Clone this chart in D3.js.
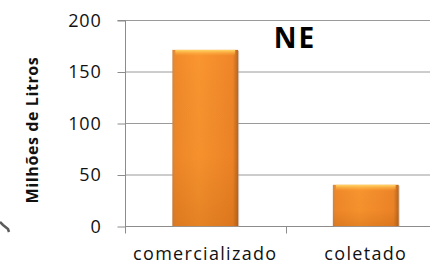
<!DOCTYPE html>
<html lang="pt">
<head>
<meta charset="UTF-8">
<title>NE</title>
<style>
  html, body { margin: 0; padding: 0; background: #fff; overflow: hidden; }
  svg { display: block; }
</style>
</head>
<body>
<svg id="chart" width="430" height="265"></svg>
<script src="https://cdn.jsdelivr.net/npm/d3@7"></script>
<script>
const categories = ["comercializado", "coletado"];
const values = [171, 40];
const yTicks = [0, 50, 100, 150, 200];
const chartTitle = "NE";
const yTitle = "Milhões de Litros";

const W = 430, H = 265;
const plotL = 125, plotR = 446, plotT = 20, plotB = 226;
const svg = d3.select("#chart");
const FONT = "'Open Sans', 'Liberation Sans', sans-serif";

const x = d3.scaleBand().domain(categories).range([plotL, plotR])
  .paddingInner(0.59).paddingOuter(0.295);
const y = d3.scaleLinear().domain([0, 200]).range([plotB, plotT]);

// gradients for the bars
const defs = svg.append("defs");
const gh = defs.append("linearGradient").attr("id", "gh").attr("x1", 0).attr("x2", 1).attr("y1", 0).attr("y2", 0);
gh.append("stop").attr("offset", "0%").attr("stop-color", "#d08a4a");
gh.append("stop").attr("offset", "5%").attr("stop-color", "#f28a2a");
gh.append("stop").attr("offset", "40%").attr("stop-color", "#fb9630");
gh.append("stop").attr("offset", "92%").attr("stop-color", "#f08628");
gh.append("stop").attr("offset", "100%").attr("stop-color", "#b8661e");
const gv = defs.append("linearGradient").attr("id", "gv").attr("x1", 0).attr("x2", 0).attr("y1", 0).attr("y2", 1);
gv.append("stop").attr("offset", "0%").attr("stop-color", "#000").attr("stop-opacity", 0);
gv.append("stop").attr("offset", "60%").attr("stop-color", "#a04800").attr("stop-opacity", 0.06);
gv.append("stop").attr("offset", "100%").attr("stop-color", "#a04800").attr("stop-opacity", 0.25);
const gt = defs.append("linearGradient").attr("id", "gt").attr("x1", 0).attr("x2", 0).attr("y1", 0).attr("y2", 1);
gt.append("stop").attr("offset", "0%").attr("stop-color", "#ffd868");
gt.append("stop").attr("offset", "100%").attr("stop-color", "#ffb040").attr("stop-opacity", 0);

// gridlines
svg.append("g").selectAll("line").data(yTicks.filter(d => d > 0)).join("line")
  .attr("x1", plotL).attr("x2", W).attr("y1", d => y(d) + 0.5).attr("y2", d => y(d) + 0.5)
  .attr("stroke", "#9a9a9a").attr("stroke-width", 1);

// y axis
const yAxis = svg.append("g").attr("transform", `translate(${plotL + 0.5},0.5)`)
  .call(d3.axisLeft(y).tickValues(yTicks).tickSize(8).tickPadding(16));
yAxis.select(".domain").attr("stroke", "#8c8c8c").attr("d", `M-8,${plotT}H0V${plotB}`);
yAxis.selectAll(".tick line").attr("stroke", "#8c8c8c");
yAxis.selectAll(".tick text").attr("font-family", FONT).attr("font-size", 18)
  .attr("letter-spacing", 0.8).attr("fill", "#111");

// x axis
const xAxis = svg.append("g").attr("transform", `translate(0,${plotB + 0.5})`);
xAxis.append("line").attr("x1", plotL).attr("x2", W).attr("stroke", "#8c8c8c");
const bounds = [plotL, plotL + x.step()];
xAxis.selectAll("line.tk").data(bounds).join("line").attr("class", "tk")
  .attr("x1", d => Math.round(d) + 0.5).attr("x2", d => Math.round(d) + 0.5)
  .attr("y1", 0).attr("y2", 7).attr("stroke", "#8c8c8c");
xAxis.selectAll("text").data(categories).join("text")
  .attr("x", d => x(d) + x.bandwidth() / 2).attr("y", 33)
  .attr("text-anchor", "middle").attr("font-family", FONT).attr("font-size", 18)
  .attr("letter-spacing", 1.3).attr("fill", "#111").text(d => d);

// bars
const bars = svg.append("g").selectAll("g").data(categories).join("g");
bars.append("rect").attr("x", d => x(d) + 1).attr("y", (d, i) => y(values[i]) + 1)
  .attr("width", x.bandwidth()).attr("height", (d, i) => plotB - y(values[i]))
  .attr("fill", "#b09a8a").attr("opacity", 0.5);
bars.append("rect").attr("x", d => x(d)).attr("y", (d, i) => y(values[i]))
  .attr("width", x.bandwidth()).attr("height", (d, i) => plotB - y(values[i]))
  .attr("fill", "url(#gh)");
bars.append("rect").attr("x", d => x(d)).attr("y", (d, i) => y(values[i]))
  .attr("width", x.bandwidth()).attr("height", (d, i) => plotB - y(values[i]))
  .attr("fill", "url(#gv)");
bars.append("rect").attr("x", d => x(d) + 3).attr("y", (d, i) => y(values[i]))
  .attr("width", x.bandwidth() - 6).attr("height", 6)
  .attr("fill", "url(#gt)");

// title
svg.append("text").attr("x", 295).attr("y", 48).attr("text-anchor", "middle")
  .attr("font-family", FONT).attr("font-weight", "bold").attr("font-size", 28)
  .attr("letter-spacing", 2).attr("fill", "#000").text(chartTitle);

// y title
svg.append("text").attr("transform", "translate(38,130) rotate(-90)")
  .attr("text-anchor", "middle").attr("font-family", FONT).attr("font-weight", "bold")
  .attr("font-size", 16).attr("letter-spacing", 0.6).attr("fill", "#111").text(yTitle);

// small scan smudge at the left edge
svg.append("path").attr("d", "M0,222 L3,225 L8,229 L9,232")
  .attr("fill", "none").attr("stroke", "#333").attr("stroke-width", 2.5).attr("opacity", 0.8);
</script>
</body>
</html>
